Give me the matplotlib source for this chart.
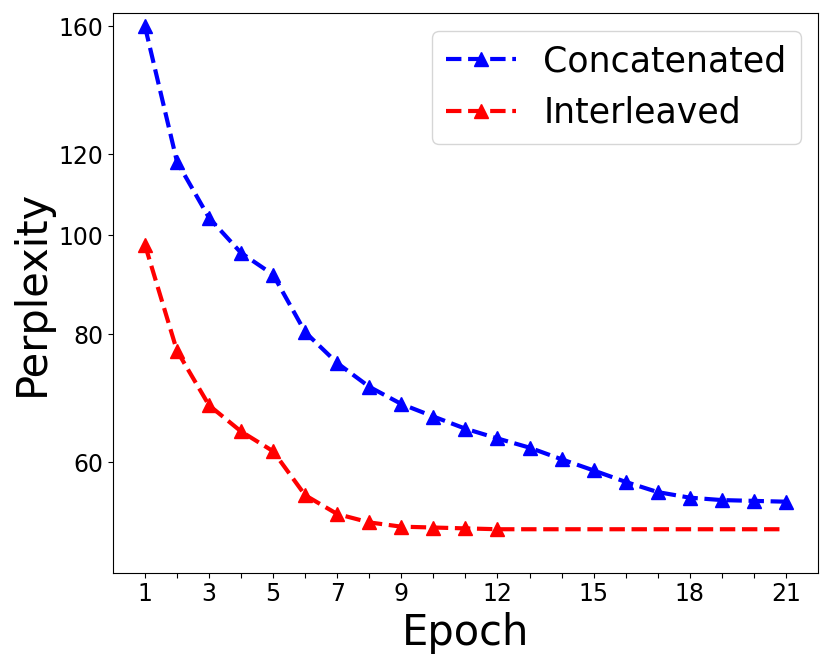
import matplotlib
matplotlib.use("Agg")
import matplotlib.pyplot as plt
from matplotlib.ticker import FixedLocator, NullLocator, FixedFormatter

epochs = list(range(1, 22))
concatenated = [160.0, 118.0, 104.0, 96.1, 91.5, 80.4, 75.0, 71.1, 68.4, 66.5, 64.7,
                63.3, 62.0, 60.4, 58.9, 57.4, 56.1, 55.4, 55.1, 55.0, 54.9]
interleaved = [97.9, 77.1, 68.2, 64.3, 61.5, 55.7, 53.4, 52.4, 51.9, 51.8, 51.7,
               51.6, 51.6, 51.6, 51.6, 51.6, 51.6, 51.6, 51.6, 51.6, 51.6]
n_marked = 12  # interleaved markers only shown up to epoch 12

x_labels = [1, 3, 5, 7, 9, 12, 15, 18, 21]
y_ticks = [60, 80, 100, 120, 160]

fig = plt.figure(figsize=(8.3, 6.62), dpi=100)
ax = fig.add_axes([0.136, 0.135, 0.8495, 0.845])

ax.plot(epochs, concatenated, color='blue', linestyle='--', linewidth=3,
        marker='^', markersize=10, label='Concatenated')
ax.plot(epochs, interleaved, color='red', linestyle='--', linewidth=3,
        marker='^', markersize=10, markevery=list(range(n_marked)), label='Interleaved')

ax.set_yscale('log')
ax.yaxis.set_major_locator(FixedLocator(y_ticks))
ax.yaxis.set_major_formatter(FixedFormatter([str(v) for v in y_ticks]))
ax.yaxis.set_minor_locator(NullLocator())
ax.set_ylim(46.8, 164.8)
ax.set_xlim(0, 22)

ax.set_xticks(epochs)
ax.set_xticklabels([str(e) if e in x_labels else '' for e in epochs])
ax.tick_params(labelsize=17)

ax.set_xlabel('Epoch', fontsize=30)
ax.set_ylabel('Perplexity', fontsize=30)

ax.legend(loc='upper right', fontsize=25)

fig.savefig('out.png', dpi=100)
